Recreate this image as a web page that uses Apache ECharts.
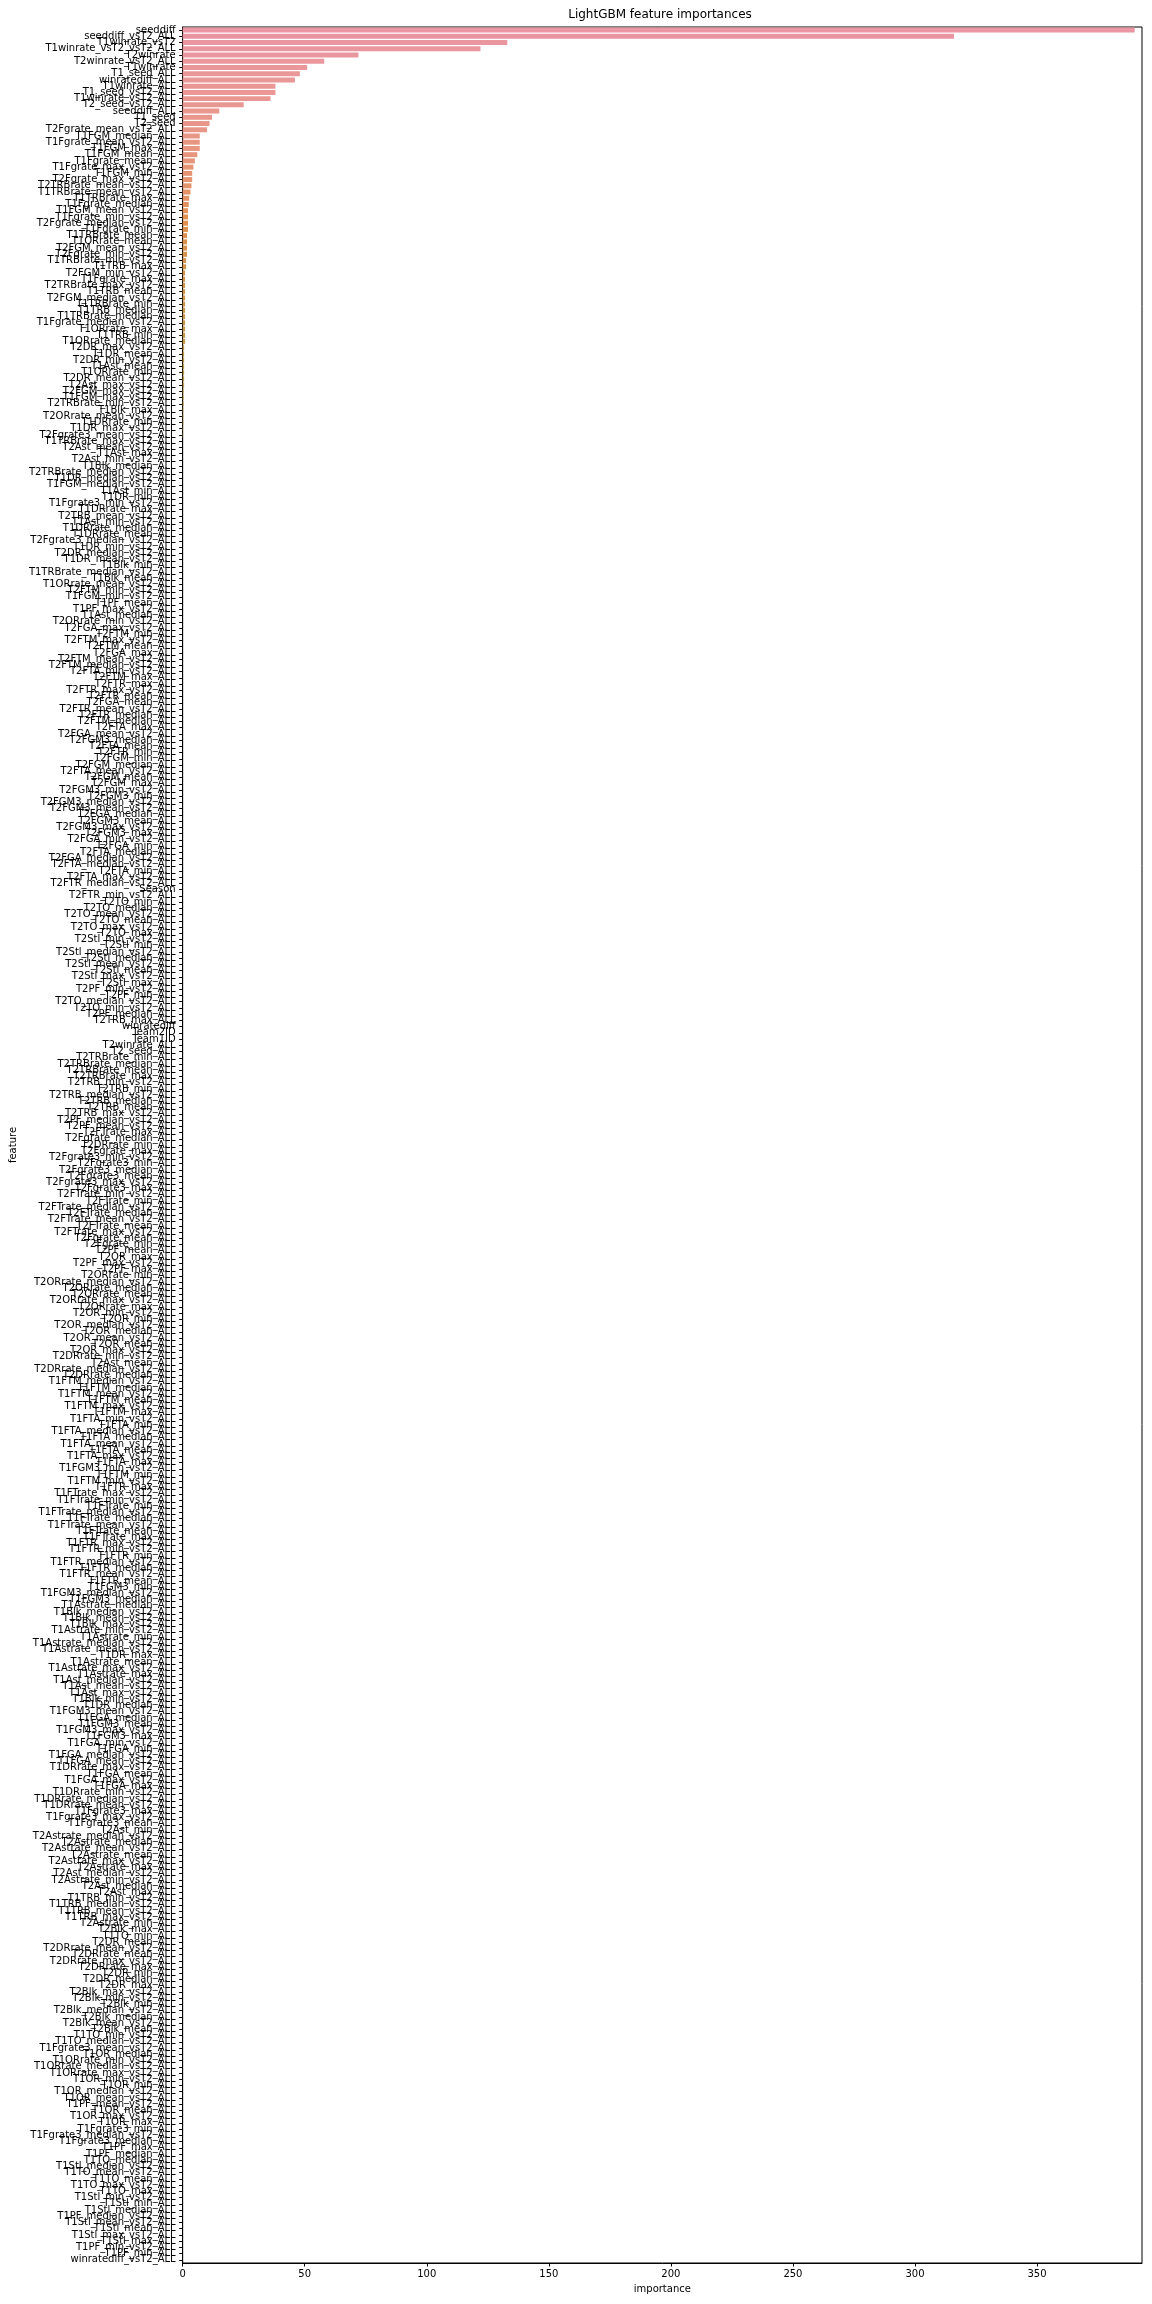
<!DOCTYPE html>
<html>
<head>
<meta charset="utf-8">
<script src="https://cdn.jsdelivr.net/npm/echarts@6/dist/echarts.min.js"></script>
<style>html,body{margin:0;padding:0;background:#fff}#c{width:1152px;height:2304px}</style>
</head>
<body>
<div id="c"></div>
<script>
const features = [
'seeddiff','seeddiff_vsT2_ALL','T1winrate_vsT2','T1winrate_vsT2_vsT2_ALL','T2winrate','T2winrate_vsT2_ALL','T1winrate','T1_seed_ALL','winratediff_ALL','T1winrate_ALL',
'T1_seed_vsT2_ALL','T1winrate_vsT2_ALL','T2_seed_vsT2_ALL','seeddiff_ALL','T1_seed','T2_seed','T2Fgrate_mean_vsT2_ALL','T1FGM_median_ALL','T1Fgrate_mean_vsT2_ALL','T1FGM_max_ALL',
'T1FGM_mean_ALL','T1Fgrate_mean_ALL','T1Fgrate_max_vsT2_ALL','T1FGM_min_ALL','T2Fgrate_max_vsT2_ALL','T2TRBrate_mean_vsT2_ALL','T1TRBrate_mean_vsT2_ALL','T1TRBrate_max_ALL','T1Fgrate_median_ALL','T1FGM_mean_vsT2_ALL',
'T1Fgrate_min_vsT2_ALL','T2Fgrate_median_vsT2_ALL','T1Fgrate_min_ALL','T1TRBrate_mean_ALL','T1ORrate_mean_ALL','T2FGM_mean_vsT2_ALL','T2Fgrate_min_vsT2_ALL','T1TRBrate_min_vsT2_ALL','T1TRB_max_ALL','T2FGM_min_vsT2_ALL',
'T1Fgrate_max_ALL','T2TRBrate_max_vsT2_ALL','T1TRB_mean_ALL','T2FGM_median_vsT2_ALL','T1TRBrate_min_ALL','T1TRB_median_ALL','T1TRBrate_median_ALL','T1Fgrate_median_vsT2_ALL','T1ORrate_max_ALL','T1TRB_min_ALL',
'T1ORrate_median_ALL','T2DR_max_vsT2_ALL','T1DR_mean_ALL','T2DR_min_vsT2_ALL','T1Ast_mean_ALL','T1ORrate_min_ALL','T2DR_mean_vsT2_ALL','T2Ast_max_vsT2_ALL','T2FGM_max_vsT2_ALL','T1FGM_max_vsT2_ALL',
'T2TRBrate_min_vsT2_ALL','T1Blk_max_ALL','T2ORrate_mean_vsT2_ALL','T1DRrate_min_ALL','T1DR_max_vsT2_ALL','T2Fgrate3_mean_vsT2_ALL','T1TRBrate_max_vsT2_ALL','T2Ast_mean_vsT2_ALL','T1Ast_max_ALL','T2Ast_min_vsT2_ALL',
'T1Blk_median_ALL','T2TRBrate_median_vsT2_ALL','T1DR_median_vsT2_ALL','T1FGM_median_vsT2_ALL','T1Ast_min_ALL','T1DR_min_ALL','T1Fgrate3_min_vsT2_ALL','T1DRrate_max_ALL','T2TRB_mean_vsT2_ALL','T1Ast_min_vsT2_ALL',
'T1DRrate_median_ALL','T1DRrate_mean_ALL','T2Fgrate3_median_vsT2_ALL','T1DR_min_vsT2_ALL','T2DR_median_vsT2_ALL','T1DR_mean_vsT2_ALL','T1Blk_min_ALL','T1TRBrate_median_vsT2_ALL','T1Blk_mean_ALL','T1ORrate_mean_vsT2_ALL',
'T2FTM_min_vsT2_ALL','T1FGM_min_vsT2_ALL','T1PF_mean_ALL','T1PF_max_vsT2_ALL','T1Ast_median_ALL','T2ORrate_min_vsT2_ALL','T2FGA_max_vsT2_ALL','T2FTM_min_ALL','T2FTM_max_vsT2_ALL','T2FTM_mean_ALL',
'T2FGA_max_ALL','T2FTM_mean_vsT2_ALL','T2FTM_median_vsT2_ALL','T2FTA_min_vsT2_ALL','T2FTM_max_ALL','T2FTR_max_ALL','T2FTR_max_vsT2_ALL','T2FTR_mean_ALL','T2FGA_mean_ALL','T2FTR_mean_vsT2_ALL',
'T2FTR_median_ALL','T2FTM_median_ALL','T2FTA_max_ALL','T2FGA_mean_vsT2_ALL','T2FGM3_median_ALL','T2FTA_mean_ALL','T2FTR_min_ALL','T2FGM_min_ALL','T2FGM_median_ALL','T2FTA_mean_vsT2_ALL',
'T2FGM_mean_ALL','T2FGM_max_ALL','T2FGM3_min_vsT2_ALL','T2FGM3_min_ALL','T2FGM3_median_vsT2_ALL','T2FGM3_mean_vsT2_ALL','T2FGA_median_ALL','T2FGM3_mean_ALL','T2FGM3_max_vsT2_ALL','T2FGM3_max_ALL',
'T2FGA_min_vsT2_ALL','T2FGA_min_ALL','T2FTA_median_ALL','T2FGA_median_vsT2_ALL','T2FTA_median_vsT2_ALL','T2FTA_min_ALL','T2FTA_max_vsT2_ALL','T2FTR_median_vsT2_ALL','Season','T2FTR_min_vsT2_ALL',
'T2TO_min_ALL','T2TO_median_ALL','T2TO_mean_vsT2_ALL','T2TO_mean_ALL','T2TO_max_vsT2_ALL','T2TO_max_ALL','T2Stl_min_vsT2_ALL','T2Stl_min_ALL','T2Stl_median_vsT2_ALL','T2Stl_median_ALL',
'T2Stl_mean_vsT2_ALL','T2Stl_mean_ALL','T2Stl_max_vsT2_ALL','T2Stl_max_ALL','T2PF_min_vsT2_ALL','T2PF_min_ALL','T2TO_median_vsT2_ALL','T2TO_min_vsT2_ALL','T2PF_median_ALL','T2TRB_max_ALL',
'winratediff','Team2ID','Team1ID','T2winrate_ALL','T2_seed_ALL','T2TRBrate_min_ALL','T2TRBrate_median_ALL','T2TRBrate_mean_ALL','T2TRBrate_max_ALL','T2TRB_min_vsT2_ALL',
'T2TRB_min_ALL','T2TRB_median_vsT2_ALL','T2TRB_median_ALL','T2TRB_mean_ALL','T2TRB_max_vsT2_ALL','T2PF_median_vsT2_ALL','T2PF_mean_vsT2_ALL','T2FTrate_max_ALL','T2Fgrate_median_ALL','T2DRrate_min_ALL',
'T2Fgrate_max_ALL','T2Fgrate3_min_vsT2_ALL','T2Fgrate3_min_ALL','T2Fgrate3_median_ALL','T2Fgrate3_mean_ALL','T2Fgrate3_max_vsT2_ALL','T2Fgrate3_max_ALL','T2FTrate_min_vsT2_ALL','T2FTrate_min_ALL','T2FTrate_median_vsT2_ALL',
'T2FTrate_median_ALL','T2FTrate_mean_vsT2_ALL','T2FTrate_mean_ALL','T2FTrate_max_vsT2_ALL','T2Fgrate_mean_ALL','T2Fgrate_min_ALL','T2PF_mean_ALL','T2OR_max_ALL','T2PF_max_vsT2_ALL','T2PF_max_ALL',
'T2ORrate_min_ALL','T2ORrate_median_vsT2_ALL','T2ORrate_median_ALL','T2ORrate_mean_ALL','T2ORrate_max_vsT2_ALL','T2ORrate_max_ALL','T2OR_min_vsT2_ALL','T2OR_min_ALL','T2OR_median_vsT2_ALL','T2OR_median_ALL',
'T2OR_mean_vsT2_ALL','T2OR_mean_ALL','T2OR_max_vsT2_ALL','T2DRrate_min_vsT2_ALL','T2Ast_mean_ALL','T2DRrate_median_vsT2_ALL','T2DRrate_median_ALL','T1FTM_median_vsT2_ALL','T1FTM_median_ALL','T1FTM_mean_vsT2_ALL',
'T1FTM_mean_ALL','T1FTM_max_vsT2_ALL','T1FTM_max_ALL','T1FTA_min_vsT2_ALL','T1FTA_min_ALL','T1FTA_median_vsT2_ALL','T1FTA_median_ALL','T1FTA_mean_vsT2_ALL','T1FTA_mean_ALL','T1FTA_max_vsT2_ALL',
'T1FTA_max_ALL','T1FGM3_min_vsT2_ALL','T1FTM_min_ALL','T1FTM_min_vsT2_ALL','T1FTR_max_ALL','T1FTrate_max_vsT2_ALL','T1FTrate_min_vsT2_ALL','T1FTrate_min_ALL','T1FTrate_median_vsT2_ALL','T1FTrate_median_ALL',
'T1FTrate_mean_vsT2_ALL','T1FTrate_mean_ALL','T1FTrate_max_ALL','T1FTR_max_vsT2_ALL','T1FTR_min_vsT2_ALL','T1FTR_min_ALL','T1FTR_median_vsT2_ALL','T1FTR_median_ALL','T1FTR_mean_vsT2_ALL','T1FTR_mean_ALL',
'T1FGM3_min_ALL','T1FGM3_median_vsT2_ALL','T1FGM3_median_ALL','T1Astrate_median_ALL','T1Blk_median_vsT2_ALL','T1Blk_mean_vsT2_ALL','T1Blk_max_vsT2_ALL','T1Astrate_min_vsT2_ALL','T1Astrate_min_ALL','T1Astrate_median_vsT2_ALL',
'T1Astrate_mean_vsT2_ALL','T1DR_max_ALL','T1Astrate_mean_ALL','T1Astrate_max_vsT2_ALL','T1Astrate_max_ALL','T1Ast_median_vsT2_ALL','T1Ast_mean_vsT2_ALL','T1Ast_max_vsT2_ALL','T1Blk_min_vsT2_ALL','T1DR_median_ALL',
'T1FGM3_mean_vsT2_ALL','T1FGA_median_ALL','T1FGM3_mean_ALL','T1FGM3_max_vsT2_ALL','T1FGM3_max_ALL','T1FGA_min_vsT2_ALL','T1FGA_min_ALL','T1FGA_median_vsT2_ALL','T1FGA_mean_vsT2_ALL','T1DRrate_max_vsT2_ALL',
'T1FGA_mean_ALL','T1FGA_max_vsT2_ALL','T1FGA_max_ALL','T1DRrate_min_vsT2_ALL','T1DRrate_median_vsT2_ALL','T1DRrate_mean_vsT2_ALL','T1Fgrate3_max_ALL','T1Fgrate3_max_vsT2_ALL','T1Fgrate3_mean_ALL','T2Ast_min_ALL',
'T2Astrate_median_vsT2_ALL','T2Astrate_median_ALL','T2Astrate_mean_vsT2_ALL','T2Astrate_mean_ALL','T2Astrate_max_vsT2_ALL','T2Astrate_max_ALL','T2Ast_median_vsT2_ALL','T2Astrate_min_vsT2_ALL','T2Ast_median_ALL','T2Ast_max_ALL',
'T1TRB_min_vsT2_ALL','T1TRB_median_vsT2_ALL','T1TRB_mean_vsT2_ALL','T1TRB_max_vsT2_ALL','T2Astrate_min_ALL','T2Blk_max_ALL','T1TO_min_ALL','T2DR_mean_ALL','T2DRrate_mean_vsT2_ALL','T2DRrate_mean_ALL',
'T2DRrate_max_vsT2_ALL','T2DRrate_max_ALL','T2DR_min_ALL','T2DR_median_ALL','T2DR_max_ALL','T2Blk_max_vsT2_ALL','T2Blk_min_vsT2_ALL','T2Blk_min_ALL','T2Blk_median_vsT2_ALL','T2Blk_median_ALL',
'T2Blk_mean_vsT2_ALL','T2Blk_mean_ALL','T1TO_min_vsT2_ALL','T1TO_median_vsT2_ALL','T1Fgrate3_mean_vsT2_ALL','T1OR_median_ALL','T1ORrate_min_vsT2_ALL','T1ORrate_median_vsT2_ALL','T1ORrate_max_vsT2_ALL','T1OR_min_vsT2_ALL',
'T1OR_min_ALL','T1OR_median_vsT2_ALL','T1OR_mean_vsT2_ALL','T1PF_mean_vsT2_ALL','T1OR_mean_ALL','T1OR_max_vsT2_ALL','T1OR_max_ALL','T1Fgrate3_min_ALL','T1Fgrate3_median_vsT2_ALL','T1Fgrate3_median_ALL',
'T1PF_max_ALL','T1PF_median_ALL','T1TO_median_ALL','T1Stl_median_vsT2_ALL','T1TO_mean_vsT2_ALL','T1TO_mean_ALL','T1TO_max_vsT2_ALL','T1TO_max_ALL','T1Stl_min_vsT2_ALL','T1Stl_min_ALL',
'T1Stl_median_ALL','T1PF_median_vsT2_ALL','T1Stl_mean_vsT2_ALL','T1Stl_mean_ALL','T1Stl_max_vsT2_ALL','T1Stl_max_ALL','T1PF_min_vsT2_ALL','T1PF_min_ALL','winratediff_vsT2_ALL'
];

const importance = [
390, 316, 133, 122, 72, 58, 51, 48, 46, 38,
38, 36, 25, 15, 12, 11, 10, 7, 7, 7,
6, 5, 4.4, 3.9, 3.9, 3.6, 3.2, 2.7, 2.5, 2.2,
2.2, 2.2, 2.2, 1.8, 1.8, 1.8, 1.8, 1.4, 1.4, 1.0,
1.0, 1.0, 1.0, 1.0, 1.0, 1.0, 1.0, 1.0, 1.0, 1.0,
1.0, 0.6, 0.6, 0.6, 0.6, 0.6, 0.6, 0.6, 0.4, 0.4,
0.4, 0.3, 0.3, 0.3, 0.2, 0.2, 0, 0, 0, 0,
0,0,0,0,0,0,0,0,0,0,
0,0,0,0,0,0,0,0,0,0,
0,0,0,0,0,0,0,0,0,0,
0,0,0,0,0,0,0,0,0,0,
0,0,0,0,0,0,0,0,0,0,
0,0,0,0,0,0,0,0,0,0,
0,0,0,0,0,0,0,0,0,0,
0,0,0,0,0,0,0,0,0,0,
0,0,0,0,0,0,0,0,0,0,
0,0,0,0,0,0,0,0,0,0,
0,0,0,0,0,0,0,0,0,0,
0,0,0,0,0,0,0,0,0,0,
0,0,0,0,0,0,0,0,0,0,
0,0,0,0,0,0,0,0,0,0,
0,0,0,0,0,0,0,0,0,0,
0,0,0,0,0,0,0,0,0,0,
0,0,0,0,0,0,0,0,0,0,
0,0,0,0,0,0,0,0,0,0,
0,0,0,0,0,0,0,0,0,0,
0,0,0,0,0,0,0,0,0,0,
0,0,0,0,0,0,0,0,0,0,
0,0,0,0,0,0,0,0,0,0,
0,0,0,0,0,0,0,0,0,0,
0,0,0,0,0,0,0,0,0,0,
0,0,0,0,0,0,0,0,0,0,
0,0,0,0,0,0,0,0,0,0,
0,0,0,0,0,0,0,0,0,0,
0,0,0,0,0,0,0,0,0,0,
0,0,0,0,0,0,0,0,0
];

const xTicks = [0, 50, 100, 150, 200, 250, 300, 350];

if (features.length !== importance.length) {
  throw new Error('length mismatch ' + features.length + ' vs ' + importance.length);
}

// seaborn categorical palette: husl_palette(n, h=.01, s=.9, l=.7), desaturated by 0.75
function huslToRgb(h, s, l) {
  const M = [[3.240969941904521, -1.537383177570093, -0.498610760293],
             [-0.96924363628087, 1.87596750150772, 0.041555057407175],
             [0.055630079696993, -0.20397695888897, 1.056971514242878]];
  const refU = 0.19783000664283, refV = 0.46831999493879, kappa = 903.2962962, eps = 0.0088564516;
  const hrad = h * Math.PI / 180;
  let c = 0;
  if (l < 99.9999999 && l > 1e-8) {
    const sub1 = Math.pow(l + 16, 3) / 1560896;
    const sub2 = sub1 > eps ? sub1 : l / kappa;
    let mn = Infinity;
    for (const [m1, m2, m3] of M) {
      for (const t of [0, 1]) {
        const top1 = (284517 * m1 - 94839 * m3) * sub2;
        const top2 = (838422 * m3 + 769860 * m2 + 731718 * m1) * l * sub2 - 769860 * t * l;
        const bottom = (632260 * m3 - 126452 * m2) * sub2 + 126452 * t;
        const slope = top1 / bottom, inter = top2 / bottom;
        const len = inter / (Math.sin(hrad) - slope * Math.cos(hrad));
        if (len >= 0) mn = Math.min(mn, len);
      }
    }
    c = mn / 100 * s;
  }
  const u = c * Math.cos(hrad), v = c * Math.sin(hrad);
  const Y = l > 8 ? Math.pow((l + 16) / 116, 3) : l / kappa;
  const varU = u / (13 * l) + refU, varV = v / (13 * l) + refV;
  const X = 0 - (9 * Y * varU) / ((varU - 4) * varV - varU * varV);
  const Z = (9 * Y - 15 * varV * Y - varV * X) / (3 * varV);
  return M.map(r => r[0] * X + r[1] * Y + r[2] * Z)
    .map(x => x <= 0.0031308 ? 12.92 * x : 1.055 * Math.pow(x, 1 / 2.4) - 0.055)
    .map(x => Math.min(1, Math.max(0, x)));
}
function rgbToHls(r, g, b) {
  const maxc = Math.max(r, g, b), minc = Math.min(r, g, b);
  const l = (minc + maxc) / 2;
  if (minc === maxc) return [0, l, 0];
  const s = l <= 0.5 ? (maxc - minc) / (maxc + minc) : (maxc - minc) / (2 - maxc - minc);
  const rc = (maxc - r) / (maxc - minc), gc = (maxc - g) / (maxc - minc), bc = (maxc - b) / (maxc - minc);
  let h;
  if (r === maxc) h = bc - gc; else if (g === maxc) h = 2 + rc - bc; else h = 4 + gc - rc;
  h = ((h / 6) % 1 + 1) % 1;
  return [h, l, s];
}
function hv(m1, m2, hue) {
  hue = ((hue % 1) + 1) % 1;
  if (hue < 1 / 6) return m1 + (m2 - m1) * hue * 6;
  if (hue < 0.5) return m2;
  if (hue < 2 / 3) return m1 + (m2 - m1) * (2 / 3 - hue) * 6;
  return m1;
}
function hlsToRgb(h, l, s) {
  if (s === 0) return [l, l, l];
  const m2 = l <= 0.5 ? l * (1 + s) : l + s - l * s;
  const m1 = 2 * l - m2;
  return [hv(m1, m2, h + 1 / 3), hv(m1, m2, h), hv(m1, m2, h - 1 / 3)];
}
function paletteColor(i, n) {
  const hue = (i / n + 0.01) % 1;
  const rgb = huslToRgb(hue * 359, 0.9 * 99, 0.7 * 99);
  const hls = rgbToHls(rgb[0], rgb[1], rgb[2]);
  const out = hlsToRgb(hls[0], hls[1], hls[2] * 0.75);
  return 'rgb(' + out.map(x => Math.round(x * 255)).join(',') + ')';
}

const FONT = 'DejaVu Sans';
const chart = echarts.init(document.getElementById('c'), null, {renderer: 'canvas', width: 1152, height: 2304});
chart.setOption({
  animation: false,
  backgroundColor: '#ffffff',
  title: {
    text: 'LightGBM feature importances',
    left: 660, top: 9, padding: 0, textAlign: 'center',
    textStyle: {fontFamily: FONT, fontSize: 12, fontWeight: 'normal', color: '#000'}
  },
  grid: {left: 178, right: 10, top: 27, bottom: 41, show: true, borderColor: '#000', borderWidth: 1, containLabel: false},
  xAxis: {
    type: 'value', min: 0, max: 393,
    name: 'importance', nameLocation: 'middle', nameGap: 21,
    nameTextStyle: {fontFamily: FONT, fontSize: 10, color: '#000'},
    axisLine: {show: true, lineStyle: {color: '#000', width: 1}},
    axisTick: {show: true, length: 3.5, inside: false, customValues: xTicks, lineStyle: {color: '#000'}},
    axisLabel: {fontFamily: FONT, fontSize: 10, color: '#000', margin: 6, customValues: xTicks},
    splitLine: {show: false}
  },
  yAxis: {
    type: 'category', inverse: true, data: features,
    name: 'feature', nameLocation: 'middle', nameGap: 160, nameRotate: 90,
    nameTextStyle: {fontFamily: FONT, fontSize: 10, color: '#000'},
    axisLine: {show: true, lineStyle: {color: '#000', width: 1}},
    axisTick: {show: true, alignWithLabel: true, interval: 0, length: 3.5, lineStyle: {color: '#000'}},
    axisLabel: {interval: 0, fontFamily: FONT, fontSize: 10, color: '#000', margin: 7},
    splitLine: {show: false}
  },
  series: [{
    type: 'bar',
    barWidth: '80%',
    data: importance.map((v, i) => ({value: v, itemStyle: {color: paletteColor(i, features.length)}}))
  }]
});
</script>
</body>
</html>
